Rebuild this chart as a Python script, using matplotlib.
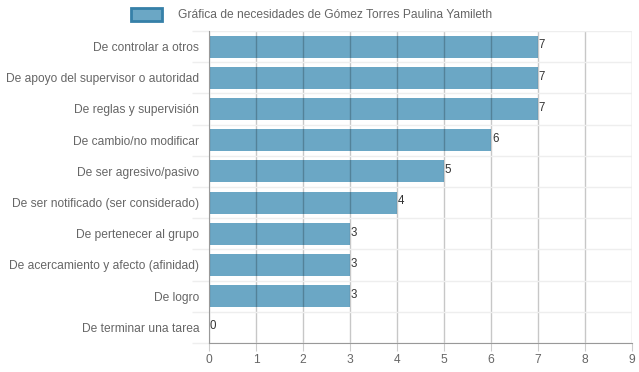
import numpy as np
import matplotlib.pyplot as plt
from matplotlib.patches import Rectangle

categories = ['De controlar a otros', 'De apoyo del supervisor o autoridad',
              'De reglas y supervisión', 'De cambio/no modificar',
              'De ser agresivo/pasivo', 'De ser notificado (ser considerado)',
              'De pertenecer al grupo', 'De acercamiento y afecto (afinidad)',
              'De logro', 'De terminar una tarea']
values = [7, 7, 7, 6, 5, 4, 3, 3, 3, 0]
legend_label = 'Gráfica de necesidades de Gómez Torres Paulina Yamileth'

plt.rcParams['font.family'] = ['Liberation Sans', 'DejaVu Sans']
fs = 8.64  # 12px

fig = plt.figure(figsize=(6.39, 3.72), dpi=100)
ax = fig.add_axes([209/639, 29/372, 423/639, 312/372])

y = np.arange(len(categories))
ax.barh(y, values, height=0.7, color='#6ba7c5', zorder=1)
for yi, v in zip(y, values):
    ax.text(v + 0.02, yi - 0.04, str(v), fontsize=8.3, color='#333333',
            va='center', ha='left', zorder=4)

ax.set_xlim(0, 9)
ax.set_ylim(len(categories) - 0.5, -0.5)
ax.set_xticks(range(10))
ax.set_yticks(y)
ax.set_yticklabels(categories)
ax.tick_params(axis='y', length=0, pad=7, labelsize=fs, labelcolor='#666666')
ax.tick_params(axis='x', length=6, color='#cccccc', pad=2, labelsize=fs, labelcolor='#666666')

# category boundaries as light horizontal grid
ax.set_yticks(np.arange(-0.5, len(categories), 1), minor=True)
ax.tick_params(axis='y', which='minor', length=12, color='#eeeeee', width=1)
ax.grid(axis='y', which='minor', color='#eeeeee', lw=1, zorder=0)
ax.grid(axis='x', which='major', color='black', alpha=0.22, lw=1, zorder=3)

for s in ['top', 'right']:
    ax.spines[s].set_visible(False)
ax.spines['left'].set_color('#999999')
ax.spines['bottom'].set_color('#999999')

# legend box like chart.js
fig.patches.append(Rectangle((131/639, 1 - 21/372), 31/639, 13/372,
                             transform=fig.transFigure, facecolor='#6ba7c5',
                             edgecolor='#3680a8', lw=2))
fig.text(178/639, 1 - 14.5/372, legend_label, fontsize=fs, color='#666666',
         va='center', ha='left')

plt.savefig('out.png', dpi=100)
